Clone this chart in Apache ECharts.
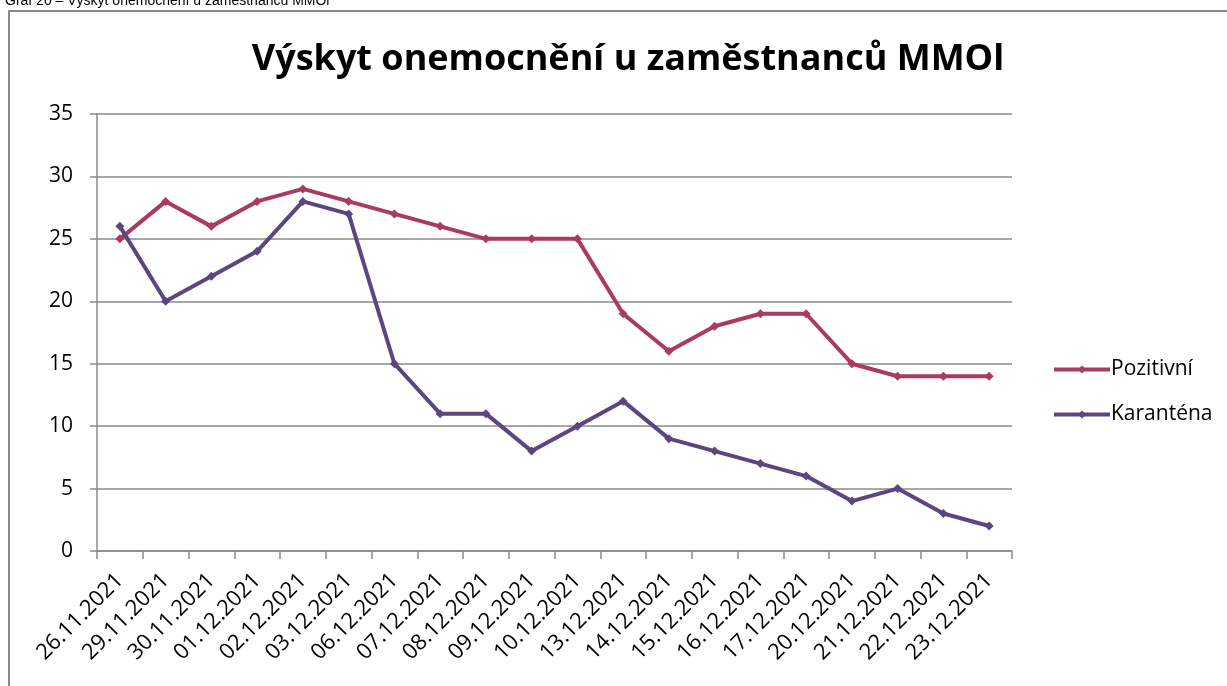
<!DOCTYPE html>
<html>
<head>
<meta charset="utf-8">
<script src="https://cdn.jsdelivr.net/npm/echarts@6/dist/echarts.min.js"></script>
<style>
  html, body { margin: 0; padding: 0; background: #fff; overflow: hidden; }
  #frame { position: absolute; left: 8px; top: 10px; width: 1400px; height: 900px; border: 2px solid #8a8a8a; box-sizing: border-box; }
  #chart { position: absolute; left: 0; top: 0; width: 1227px; height: 686px; }
</style>
</head>
<body>
<div id="frame"></div>
<div id="chart"></div>
<script>
const dates = ['26.11.2021', '29.11.2021', '30.11.2021', '01.12.2021', '02.12.2021', '03.12.2021',
  '06.12.2021', '07.12.2021', '08.12.2021', '09.12.2021', '10.12.2021', '13.12.2021', '14.12.2021',
  '15.12.2021', '16.12.2021', '17.12.2021', '20.12.2021', '21.12.2021', '22.12.2021', '23.12.2021'];
const pozitivni = [25, 28, 26, 28, 29, 28, 27, 26, 25, 25, 25, 19, 16, 18, 19, 19, 15, 14, 14, 14];
const karantena = [26, 20, 22, 24, 28, 27, 15, 11, 11, 8, 10, 12, 9, 8, 7, 6, 4, 5, 3, 2];

const font = '"Open Sans", Lato, sans-serif';
const gray = '#8a8a8a';

function lineSeries(name, data, color) {
  return {
    name: name,
    type: 'line',
    data: data,
    symbol: 'diamond',
    symbolSize: 9,
    lineStyle: { width: 4, color: color },
    itemStyle: { color: color },
    emphasis: { disabled: true }
  };
}

var option = {
  animation: false,
  title: [
    {
      text: 'Výskyt onemocnění u zaměstnanců MMOl',
      left: 623,
      top: 37,
      textAlign: 'center',
      textStyle: { fontFamily: font, fontSize: 36, fontWeight: 'bold', color: '#000' }
    },
    {
      text: 'Graf 20 – Výskyt onemocnění u zaměstnanců MMOl',
      left: 0,
      top: -11,
      textStyle: { fontFamily: 'Liberation Sans, Arial, sans-serif', fontSize: 14, fontWeight: 'normal', color: '#000' }
    }
  ],
  legend: {
    orient: 'vertical',
    left: 1047,
    top: 354,
    itemGap: 24,
    itemWidth: 56,
    itemHeight: 10,
    lineStyle: { width: 4 },
    textStyle: { fontFamily: font, fontSize: 21, color: '#000', padding: [0, 0, 0, -4] },
    data: ['Pozitivní', 'Karanténa']
  },
  grid: { left: 97, right: 215, top: 114, bottom: 135 },
  xAxis: {
    type: 'category',
    data: dates,
    boundaryGap: true,
    axisLine: { lineStyle: { color: gray, width: 1.5 } },
    axisTick: { show: true, interval: 0, length: 8, lineStyle: { color: gray, width: 1.5 } },
    axisLabel: {
      interval: 0,
      rotate: 45,
      margin: 26,
      fontFamily: font,
      fontSize: 22,
      color: '#000'
    }
  },
  yAxis: {
    type: 'value',
    min: 0,
    max: 35,
    interval: 5,
    axisLine: { show: true, lineStyle: { color: gray, width: 1.5 } },
    axisTick: { show: true, length: 7, lineStyle: { color: gray, width: 1.5 } },
    axisLabel: { fontFamily: font, fontSize: 21, color: '#000', margin: 24 },
    splitLine: { lineStyle: { color: gray, width: 1.5 } }
  },
  series: [
    lineSeries('Pozitivní', pozitivni, '#aa3a60'),
    lineSeries('Karanténa', karantena, '#5b4680')
  ]
};

var chart = echarts.init(document.getElementById('chart'));
chart.setOption(option);
</script>
</body>
</html>
